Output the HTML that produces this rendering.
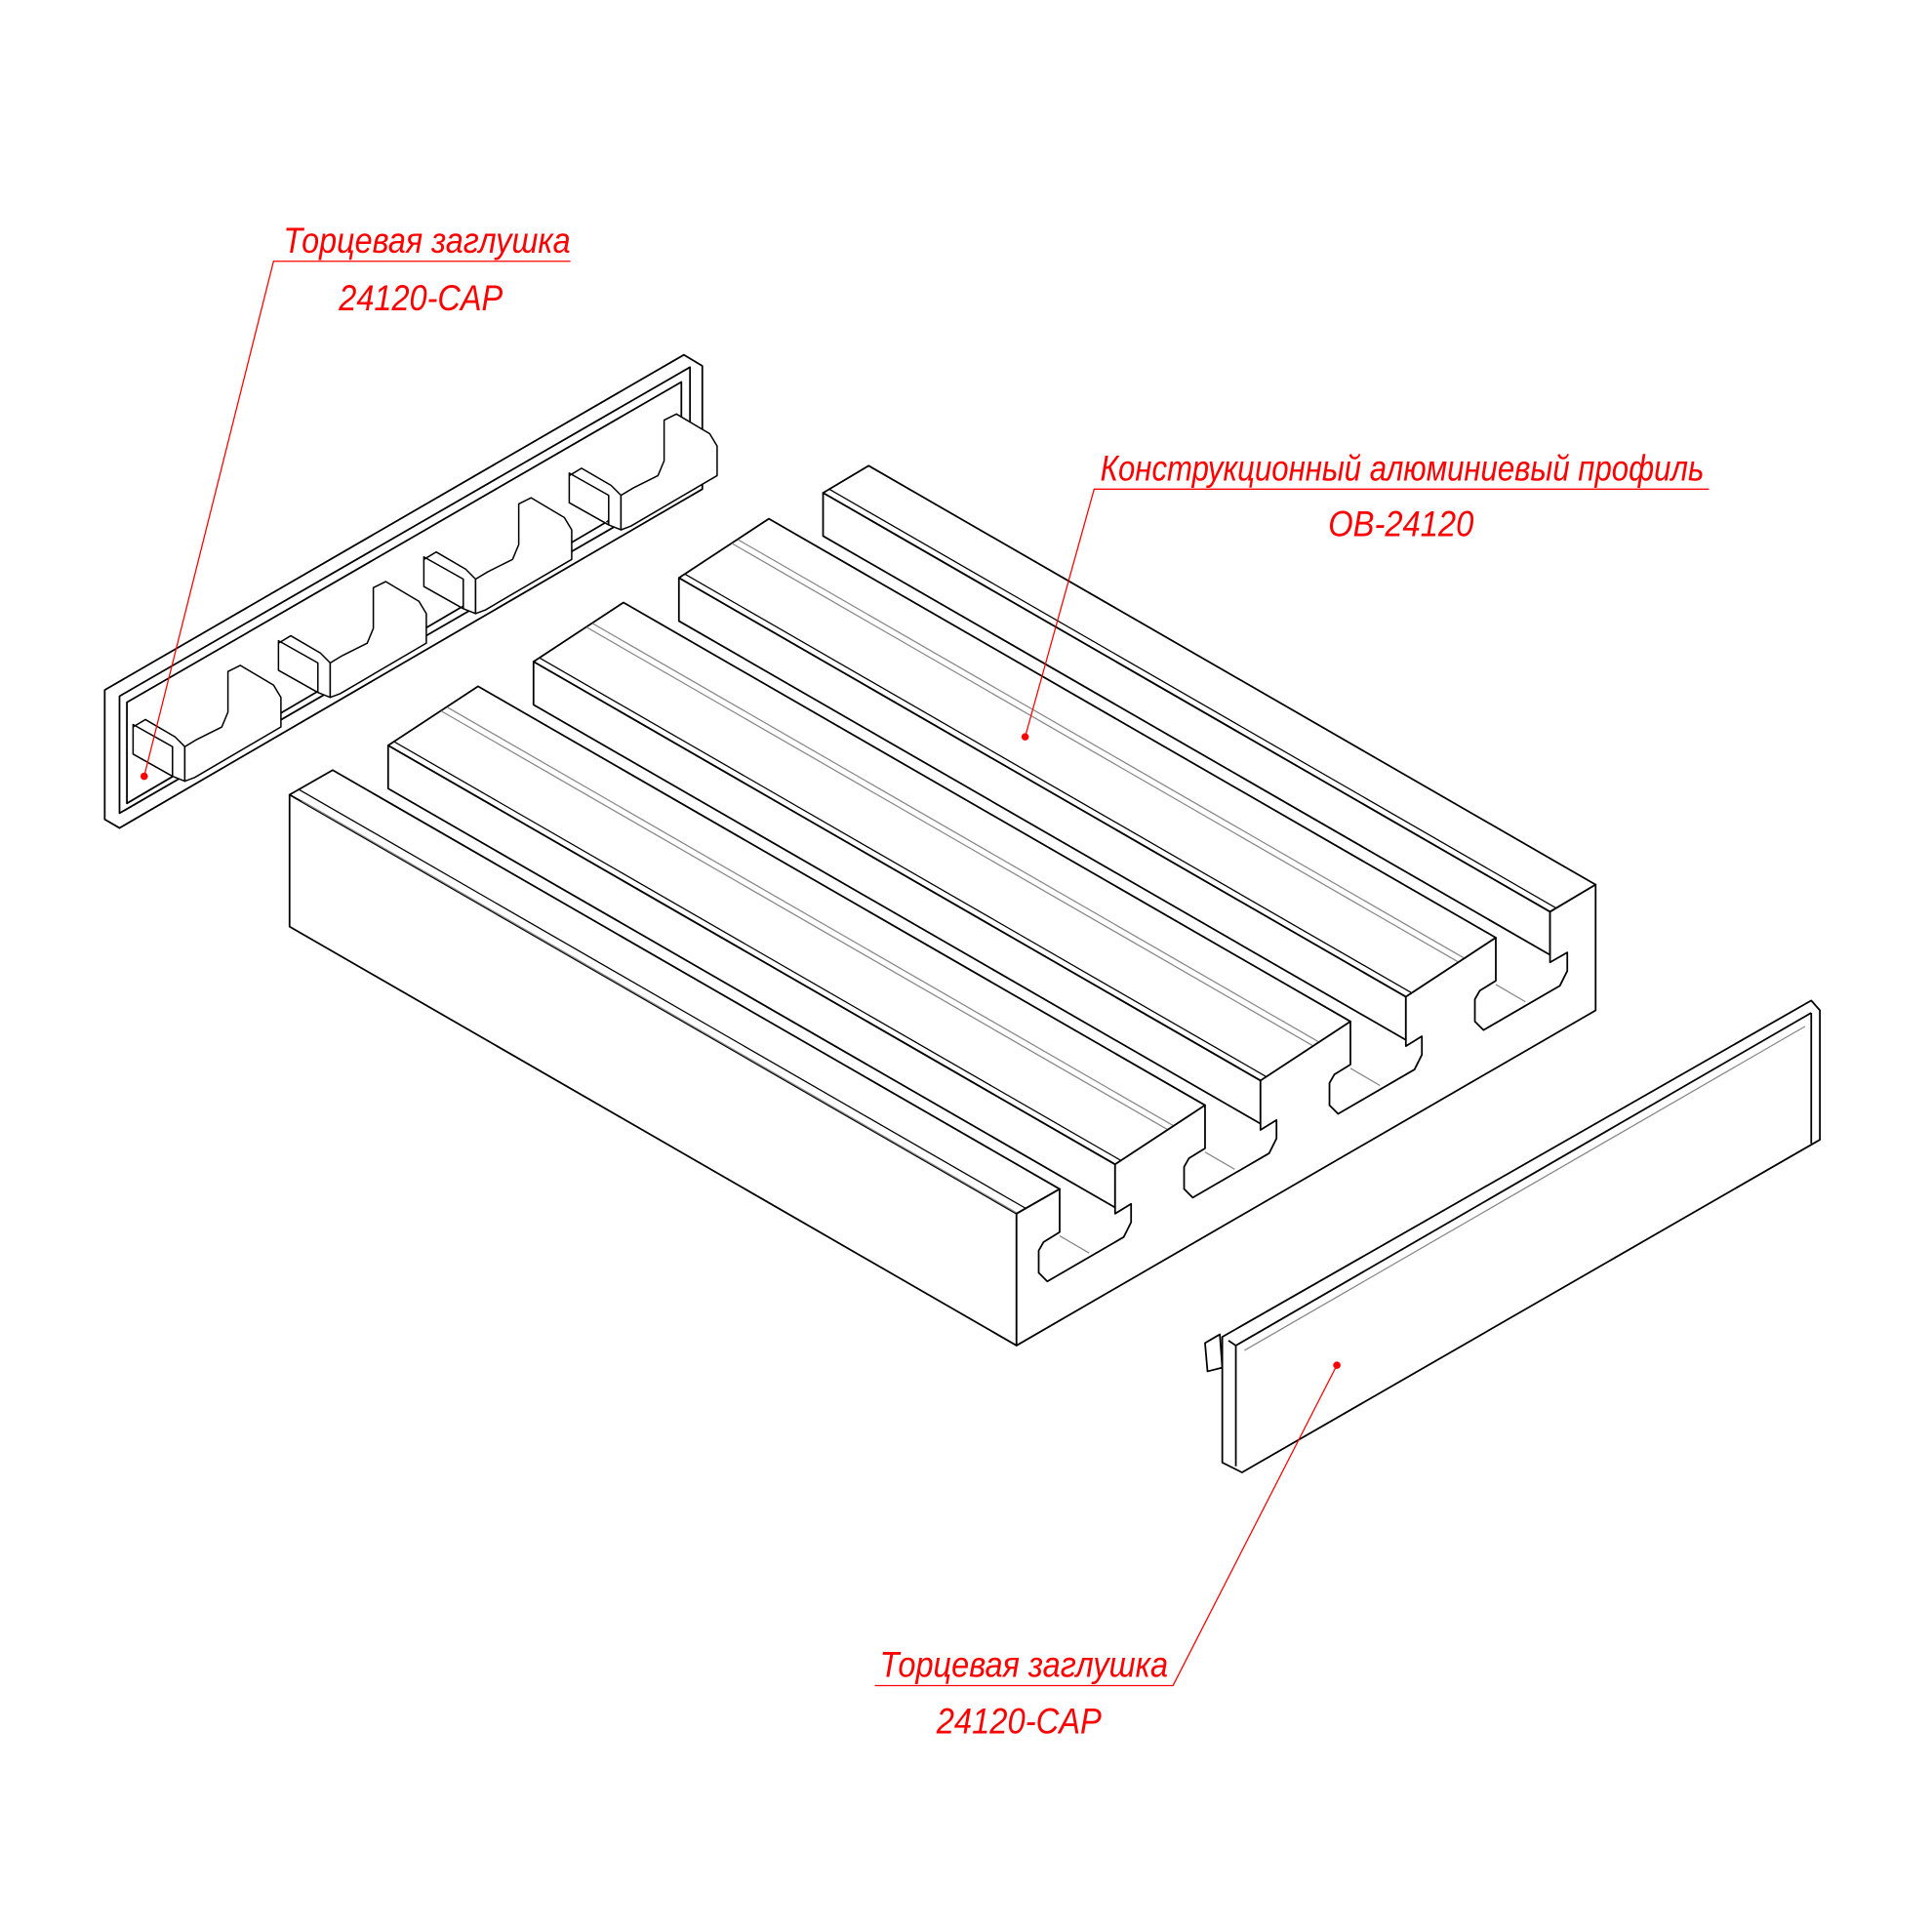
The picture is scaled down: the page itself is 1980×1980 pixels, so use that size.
<!DOCTYPE html>
<html><head><meta charset="utf-8"><style>
html,body{margin:0;padding:0;background:#fff;}
svg{display:block;}
.t{font-family:"Liberation Sans",sans-serif;font-style:italic;fill:#f00;font-size:29px;}
</style></head><body>
<svg width="1980" height="1980" viewBox="0 0 1568 1568" xmlns="http://www.w3.org/2000/svg">
<g fill="#fff" stroke="#000" stroke-width="1.4" stroke-linejoin="round">
<polygon points="668,400 705,378 1295,718 1258,740"/>
<polygon points="668,400 668,435 1258,775 1258,740"/>
<polygon points="551,469 624,421 1214,761 1141,809"/>
<polygon points="551,469 551,504 1141,844 1141,809"/>
<polygon points="433,537 506,489 1096,829 1023,877"/>
<polygon points="433,537 433,572 1023,912 1023,877"/>
<polygon points="315,605 388,557 978,897 905,945"/>
<polygon points="315,605 315,640 905,980 905,945"/>
<polygon points="235,645 270,625 860,965 825,985"/>
<polygon points="235,645 825,985 825,1092 235,752"/>
</g>
<g stroke="#000" stroke-width="1" fill="none">
<line x1="243" y1="641" x2="833" y2="981"/>
<line x1="320" y1="602" x2="910" y2="942"/><line x1="358" y1="577" x2="948" y2="917" stroke="#888"/><line x1="363" y1="574" x2="953" y2="914" stroke="#888"/>
<line x1="438" y1="534" x2="1028" y2="874"/><line x1="476" y1="509" x2="1066" y2="849" stroke="#888"/><line x1="481" y1="506" x2="1071" y2="846" stroke="#888"/>
<line x1="556" y1="466" x2="1146" y2="806"/><line x1="594" y1="441" x2="1184" y2="781" stroke="#888"/><line x1="599" y1="438" x2="1189" y2="778" stroke="#888"/>
<line x1="673" y1="397" x2="1263" y2="737"/>
<line x1="245" y1="650" x2="835" y2="990" stroke="#888"/>
</g>
<path fill="#fff" stroke="#000" stroke-width="1.4" stroke-linejoin="round" d="
M825,1092 L825,985 L860,965
L860,1000 L847,1008 L843,1015 L843,1033 L850,1040 L912,1004 L918,992 L918,977 L905,985 L905,945 L978,897
L978,932 L965,940 L961,947 L961,965 L968,972 L1030,936 L1036,924 L1036,909 L1023,917 L1023,877 L1096,829
L1096,864 L1083,872 L1079,879 L1079,897 L1086,904 L1148,868 L1154,856 L1154,841 L1141,849 L1141,809 L1214,761
L1214,796 L1201,804 L1197,811 L1197,829 L1204,836 L1266,800 L1272,788 L1272,773 L1258,781 L1258,740 L1295,718
L1295,820 Z"/>
<g stroke="#888" stroke-width="1">
<line x1="860" y1="1003" x2="884" y2="1017"/>
<line x1="978" y1="935" x2="1002" y2="949"/>
<line x1="1096" y1="867" x2="1120" y2="881"/>
<line x1="1214" y1="799" x2="1238" y2="813"/>
</g>
<g fill="#fff" stroke="#000" stroke-width="1.4" stroke-linejoin="round">
<polygon points="85,560 555,288 570,297 570,397 97,672 85,665"/>
<polygon points="97,565 560,298 560,392 97,660"/>
<polygon points="103,570 553,310 553,388 103,652"/>
</g>
<g fill="#fff" stroke="#000" stroke-width="1.2" stroke-linejoin="round">
<g id="u">
<path d="M108,590 L118,584 L142,598 L150,606 L150,634 L140,630 L140,606 L108,588 Z M108,590 L108,612 L140,630"/>
<path d="M185,545 L195,540 L222,556 L228,566 L228,590 L158,631 L150,634 L150,606 L160,600 L180,590 L185,578 Z"/>
</g>
<use href="#u" transform="translate(118,-68)"/>
<use href="#u" transform="translate(236,-136)"/>
<use href="#u" transform="translate(354,-204)"/>
</g>
<g fill="#fff" stroke="#000" stroke-width="1.4" stroke-linejoin="round">
<polygon points="978,1090 990,1083 992,1110 980,1113"/>
<polygon points="992,1085 1470,812 1477,820 1477,925 1008,1195 992,1187"/>
<line x1="1003" y1="1092" x2="1470" y2="822"/>
<line x1="1003" y1="1092" x2="1003" y2="1190"/>
<line x1="997" y1="1088" x2="1003" y2="1092"/>
<line x1="1470" y1="822" x2="1470" y2="928"/>
</g>
<line x1="1010" y1="1096" x2="1465" y2="833" stroke="#888" stroke-width="1"/>
<g stroke="#f00" stroke-width="1" fill="none">
<polyline points="463,212 222,212 117,630"/>
<polyline points="1387,397 888,397 832,598"/>
<polyline points="710,1368 952,1368 1085,1108"/>
</g>
<g fill="#f00"><circle cx="117" cy="630" r="3"/><circle cx="832" cy="598" r="3"/><circle cx="1085" cy="1108" r="3"/></g>
<text class="t" x="230" y="205" textLength="233" lengthAdjust="spacingAndGlyphs">Торцевая заглушка</text>
<text class="t" x="275" y="252" textLength="133" lengthAdjust="spacingAndGlyphs">24120-CAP</text>
<text class="t" x="893" y="390" textLength="490" lengthAdjust="spacingAndGlyphs">Конструкционный алюминиевый профиль</text>
<text class="t" x="1078" y="435" textLength="118" lengthAdjust="spacingAndGlyphs">OB-24120</text>
<text class="t" x="714" y="1361" textLength="234" lengthAdjust="spacingAndGlyphs">Торцевая заглушка</text>
<text class="t" x="760" y="1407" textLength="134" lengthAdjust="spacingAndGlyphs">24120-CAP</text>
</svg>
</body></html>
